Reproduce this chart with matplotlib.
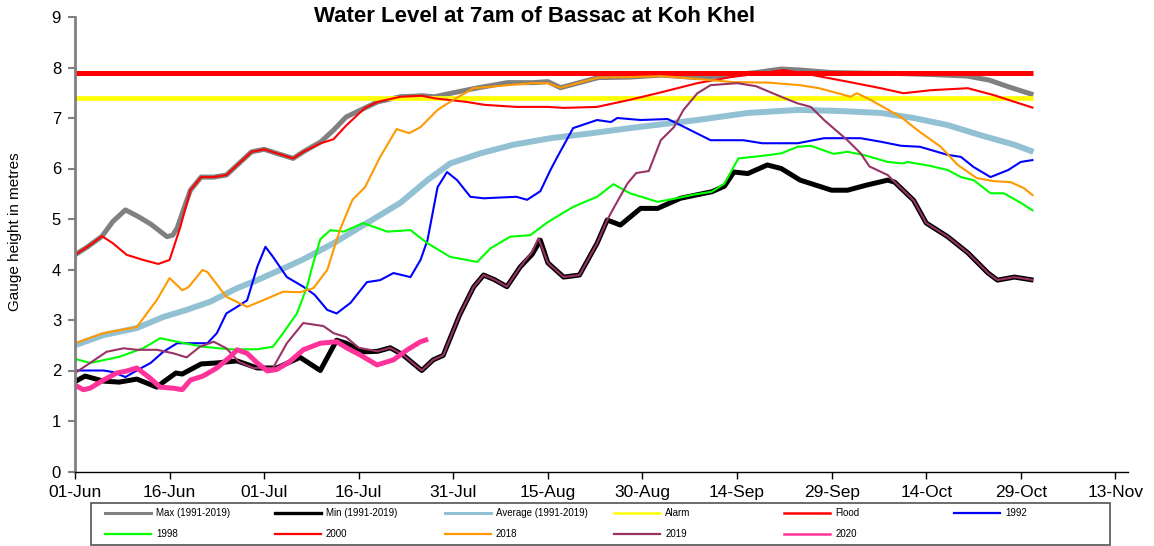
import matplotlib
matplotlib.use("Agg")
import matplotlib.pyplot as plt
from matplotlib.lines import Line2D
from matplotlib.patches import Rectangle

plt.rcParams['font.family'] = ['Liberation Sans', 'DejaVu Sans']

# ---------------- data (day index from 01-Jun, water level m) ----------------
tick_days = [0, 15, 30, 45, 60, 75, 90, 105, 120, 135, 150, 165]
tick_labels = ['01-Jun', '16-Jun', '01-Jul', '16-Jul', '31-Jul', '15-Aug',
               '30-Aug', '14-Sep', '29-Sep', '14-Oct', '29-Oct', '13-Nov']
period_days = [0, 152]
alarm_level = 7.4
flood_level = 7.9

max_pts = [(0, 4.29), (2, 4.45), (4.3, 4.66), (6, 4.95), (8, 5.18), (10, 5.05), (12, 4.9),
           (14.6, 4.65), (15.5, 4.68), (16.2, 4.82), (17.2, 5.18), (18.3, 5.57), (20, 5.83),
           (22, 5.83), (24, 5.87), (26, 6.1), (28, 6.33), (30, 6.38), (32, 6.3), (34.6, 6.2),
           (36.2, 6.33), (39, 6.53), (41, 6.76), (43, 7.02), (46, 7.2), (48, 7.32), (51.6, 7.42),
           (55, 7.44), (57, 7.42), (60, 7.5), (64, 7.6), (68.6, 7.7), (72.7, 7.7), (75, 7.72),
           (77, 7.6), (80, 7.7), (83, 7.8), (88, 7.81), (93, 7.85), (98.7, 7.8), (104, 7.85),
           (108, 7.9), (112, 7.97), (115, 7.95), (120, 7.9), (125, 7.89), (131, 7.88),
           (136, 7.86), (141.5, 7.83), (145, 7.75), (148, 7.62), (152, 7.46)]

min_pts = [(0, 1.78), (1.6, 1.89), (4.5, 1.79), (7, 1.77), (9.8, 1.83), (13, 1.67), (14, 1.77),
           (16, 1.95), (17, 1.93), (20, 2.13), (22.5, 2.15), (25.7, 2.19), (28.9, 2.05),
           (32, 2.05), (35.7, 2.26), (38.9, 2.0), (41.5, 2.6), (43, 2.54), (45.7, 2.37),
           (48, 2.38), (50, 2.45), (52, 2.31), (55, 2.0), (56.8, 2.21), (58.4, 2.3), (61, 3.1),
           (63.2, 3.65), (64.8, 3.89), (66.5, 3.8), (68.5, 3.66), (70.6, 4.05), (72.5, 4.3),
           (73.8, 4.58), (75, 4.13), (77.5, 3.85), (80, 3.89), (82.8, 4.52), (84.4, 4.98),
           (86.5, 4.88), (89.7, 5.21), (92.4, 5.21), (96, 5.41), (101, 5.54), (103, 5.65),
           (104.5, 5.93), (106.7, 5.9), (109.8, 6.07), (112, 6.0), (115, 5.77), (120, 5.57),
           (122.5, 5.57), (125.5, 5.67), (128.9, 5.77), (130, 5.73), (133, 5.37), (135, 4.92),
           (138.4, 4.65), (141.6, 4.33), (144.8, 3.93), (146.3, 3.79), (149, 3.85), (152, 3.79)]

avg_pts = [(0, 2.5), (4.5, 2.7), (9.8, 2.84), (14, 3.06), (17.7, 3.2), (21.4, 3.36), (25.7, 3.63),
           (28.9, 3.79), (32.5, 3.99), (36.2, 4.2), (41, 4.52), (46.3, 4.92), (51.6, 5.32),
           (55.9, 5.77), (59.5, 6.1), (64.3, 6.3), (69.5, 6.47), (75.4, 6.6), (82, 6.7),
           (88, 6.8), (98.7, 6.96), (106.7, 7.1), (114.6, 7.16), (121, 7.14), (127.8, 7.1),
           (133, 7.0), (138.4, 6.86), (143.6, 6.66), (149, 6.47), (152, 6.33)]

y1992_pts = [(0, 2.0), (4.5, 2.0), (6, 1.97), (8, 1.87), (9.8, 2.0), (12, 2.15), (14, 2.37),
             (16.2, 2.54), (19.3, 2.54), (21, 2.54), (22.5, 2.74), (24, 3.13), (25.7, 3.26),
             (27.3, 3.39), (28.9, 4.05), (30.2, 4.45), (31.4, 4.25), (33.6, 3.85), (36.2, 3.66),
             (38, 3.5), (40, 3.2), (41.5, 3.13), (43.7, 3.34), (46.3, 3.75), (48.4, 3.79),
             (50.5, 3.93), (53.2, 3.85), (54.8, 4.19), (55.9, 4.58), (57.5, 5.63), (59, 5.93),
             (60.6, 5.77), (62.7, 5.44), (64.8, 5.41), (70, 5.44), (71.7, 5.38), (73.8, 5.55),
             (75.4, 5.97), (76.5, 6.23), (79, 6.8), (82.8, 6.96), (85, 6.92), (86, 7.0),
             (89.7, 6.96), (94, 6.98), (96, 6.86), (100.8, 6.56), (106, 6.56), (109, 6.5),
             (114.6, 6.5), (118.8, 6.6), (124.6, 6.6), (127.8, 6.53), (131, 6.45), (134, 6.43),
             (138.4, 6.27), (140.5, 6.23), (142.5, 6.03), (145.2, 5.83), (148, 5.97),
             (150, 6.13), (152, 6.17)]

y1998_pts = [(0, 2.23), (2.4, 2.15), (7, 2.27), (10.8, 2.44), (13.5, 2.64), (16.2, 2.57),
             (20.3, 2.47), (24.6, 2.42), (28.9, 2.42), (31.4, 2.47), (33, 2.74), (35.2, 3.13),
             (36.8, 3.66), (37.5, 4.0), (38.9, 4.6), (40.5, 4.78), (42.6, 4.75), (45.7, 4.92),
             (49.5, 4.75), (53.2, 4.78), (55.9, 4.52), (59.5, 4.25), (63.8, 4.15), (65.9, 4.42),
             (69, 4.65), (72.2, 4.68), (75, 4.94), (79, 5.24), (82.8, 5.44), (85.4, 5.69),
             (88, 5.51), (92.4, 5.34), (95, 5.4), (98, 5.48), (101, 5.54), (103, 5.7),
             (105.2, 6.2), (109, 6.25), (112, 6.3), (114.6, 6.43), (116.7, 6.45), (120.3, 6.29),
             (122.5, 6.33), (125, 6.27), (128.9, 6.13), (131.4, 6.1), (132, 6.13),
             (135.7, 6.05), (138.4, 5.97), (140.5, 5.83), (142.5, 5.77), (145.2, 5.51),
             (147.3, 5.51), (150, 5.32), (152, 5.16)]

y2000_pts = [(0, 4.29), (2, 4.45), (4.3, 4.66), (6, 4.52), (8.2, 4.29), (10.8, 4.19), (13.2, 4.11),
             (15, 4.19), (16.7, 4.84), (18.3, 5.57), (20, 5.83), (22, 5.83), (24, 5.87),
             (26, 6.1), (28, 6.33), (30, 6.38), (32, 6.3), (34.6, 6.2), (36.2, 6.33), (39, 6.5),
             (41, 6.58), (43, 6.85), (46, 7.2), (48, 7.32), (51.6, 7.42), (55, 7.44), (57, 7.39),
             (62, 7.32), (65, 7.26), (70, 7.22), (75, 7.22), (77.5, 7.2), (82.8, 7.22),
             (88, 7.36), (93, 7.51), (98.7, 7.69), (104, 7.81), (109, 7.89), (112.4, 7.95),
             (117, 7.85), (122.5, 7.72), (127.8, 7.59), (131.4, 7.49), (135.7, 7.55),
             (141.6, 7.59), (145.8, 7.45), (149, 7.32), (152, 7.2)]

y2018_pts = [(0, 2.54), (4.5, 2.74), (9.8, 2.86), (13, 3.4), (15, 3.83), (17, 3.59), (18, 3.65),
             (20.2, 3.99), (21, 3.95), (24, 3.46), (27.3, 3.26), (29.8, 3.39), (33, 3.56),
             (35.7, 3.55), (37.8, 3.63), (40, 3.99), (42, 4.78), (44, 5.38), (46, 5.63),
             (48.4, 6.23), (51, 6.78), (53, 6.7), (54.8, 6.82), (57.5, 7.16), (60, 7.36),
             (63.2, 7.59), (68.6, 7.65), (72.7, 7.69), (75, 7.69), (77, 7.6), (80, 7.7),
             (83, 7.8), (88, 7.81), (93, 7.83), (99, 7.77), (104.5, 7.71), (110, 7.7),
             (115, 7.65), (118, 7.59), (121, 7.49), (123, 7.42), (124, 7.49), (126, 7.37),
             (131, 7.02), (133.6, 6.76), (137.3, 6.43), (140, 6.07), (143, 5.81), (145.7, 5.75),
             (148.4, 5.73), (150.5, 5.61), (152, 5.46)]

y2019_pts = [(0, 1.95), (2.4, 2.15), (5, 2.37), (7.7, 2.44), (9.8, 2.41), (13, 2.41), (15.6, 2.34),
             (17.7, 2.26), (19.8, 2.47), (22, 2.57), (24, 2.44), (26, 2.17), (28.3, 2.05),
             (31.4, 2.05), (33.6, 2.54), (36.2, 2.94), (39.4, 2.88), (41, 2.74), (43, 2.66),
             (45, 2.45), (48, 2.38), (50, 2.45), (52, 2.31), (55, 2.0), (56.8, 2.21), (58.4, 2.3),
             (61, 3.1), (63.2, 3.65), (64.8, 3.89), (66.5, 3.8), (68.5, 3.66), (70.6, 4.05),
             (72.5, 4.35), (73.5, 4.62), (75, 4.13), (77.5, 3.85), (80, 3.89), (82.8, 4.52),
             (84.4, 4.98), (85.4, 5.21), (87.6, 5.7), (89, 5.91), (91, 5.95), (92.9, 6.56),
             (95, 6.82), (96.5, 7.16), (98.7, 7.49), (100.8, 7.65), (105, 7.69), (108, 7.63),
             (112, 7.42), (114.6, 7.29), (116.7, 7.22), (118.8, 6.96), (120, 6.83), (122.5, 6.56),
             (124.6, 6.3), (126, 6.04), (128.9, 5.87), (130, 5.73), (133, 5.37), (135, 4.92),
             (138.4, 4.65), (141.6, 4.33), (144.8, 3.93), (146.3, 3.79), (149, 3.85), (152, 3.79)]

y2020_pts = [(0, 1.71), (1.3, 1.62), (2.4, 1.65), (4.5, 1.81), (6.6, 1.95), (8.2, 1.99), (9.8, 2.05),
             (11.9, 1.85), (13.5, 1.67), (15.6, 1.65), (17, 1.62), (18.3, 1.81), (20.3, 1.89),
             (22.5, 2.05), (24.6, 2.27), (25.7, 2.41), (27.3, 2.34), (28.9, 2.15), (30.5, 1.99),
             (32, 2.02), (34, 2.17), (36.2, 2.41), (38.9, 2.54), (41.5, 2.57), (43.2, 2.44),
             (45.2, 2.31), (47.9, 2.11), (50.5, 2.21), (52.7, 2.41), (54.8, 2.57), (56, 2.62)]

# ---------------- series styling ----------------
series = [
    ('Max (1991-2019)', max_pts, '#808080', 3.6),
    ('Min (1991-2019)', min_pts, '#000000', 3.6),
    ('Average (1991-2019)', avg_pts, '#92C1D4', 4.3),
    ('Alarm', [(d, alarm_level) for d in period_days], '#FFFF00', 3.4),
    ('Flood', [(d, flood_level) for d in period_days], '#FF0000', 3.6),
    ('1992', y1992_pts, '#0000FF', 1.5),
    ('1998', y1998_pts, '#00FF00', 1.5),
    ('2000', y2000_pts, '#FF0000', 1.5),
    ('2018', y2018_pts, '#FF9900', 1.5),
    ('2019', y2019_pts, '#993366', 1.5),
    ('2020', y2020_pts, '#FF3399', 3.6),
]
legend_lw = {'Max (1991-2019)': 2.2, 'Min (1991-2019)': 2.4, 'Average (1991-2019)': 2.2,
             'Alarm': 1.8, 'Flood': 1.8, '2020': 1.8}

W, H = 1154, 546
fig = plt.figure(figsize=(W / 100, H / 100), dpi=100)
ax = fig.add_axes([75 / W, 1 - 471.5 / H, (1128 - 75) / W, (471.5 - 17) / H])

for name, pts, color, lw in series:
    xs = [p[0] for p in pts]
    ys = [p[1] for p in pts]
    ax.plot(xs, ys, color=color, lw=lw, solid_joinstyle='round', solid_capstyle='butt')

ax.set_xlim(0, 167)
ax.set_ylim(0, 9)
ax.set_xticks(tick_days)
ax.set_xticklabels(tick_labels)
ax.set_yticks(range(0, 10))
ax.tick_params(axis='both', direction='out', length=5)
ax.tick_params(axis='x', labelsize=12.5, color='black', width=1, pad=5)
ax.tick_params(axis='y', labelsize=12, color='#808080', width=1.5, pad=5)
for s in ['top', 'right']:
    ax.spines[s].set_visible(False)
ax.spines['left'].set_color('#808080')
ax.spines['left'].set_linewidth(2)
ax.spines['bottom'].set_color('black')
ax.spines['bottom'].set_linewidth(1)

fig.text(535 / W, 1 - 17 / H, 'Water Level at 7am of Bassac at Koh Khel',
         ha='center', va='center', fontsize=16, fontweight='bold')
fig.text(15 / W, 1 - 232 / H, 'Gauge height in metres', rotation=90,
         ha='center', va='center', fontsize=11)

# legend box (Excel style, equal column widths)
fig.add_artist(Rectangle((91 / W, 1 - 545 / H), (1110 - 91) / W, (545 - 503) / H,
                         transform=fig.transFigure, fill=False, edgecolor='#606060', lw=1.3))
col_x = [105 + 169.8 * i for i in range(6)]
row_y = [513, 534]
for i, (name, pts, color, lw) in enumerate(series):
    r, c = divmod(i, 6)
    x0 = col_x[c]
    y0 = 1 - row_y[r] / H
    fig.add_artist(Line2D([x0 / W, (x0 + 46) / W], [y0, y0], transform=fig.transFigure,
                          color=color, lw=legend_lw.get(name, 1.6)))
    fig.text((x0 + 51) / W, y0, name, ha='left', va='center', fontsize=7)

fig.savefig('out.png', dpi=100)
